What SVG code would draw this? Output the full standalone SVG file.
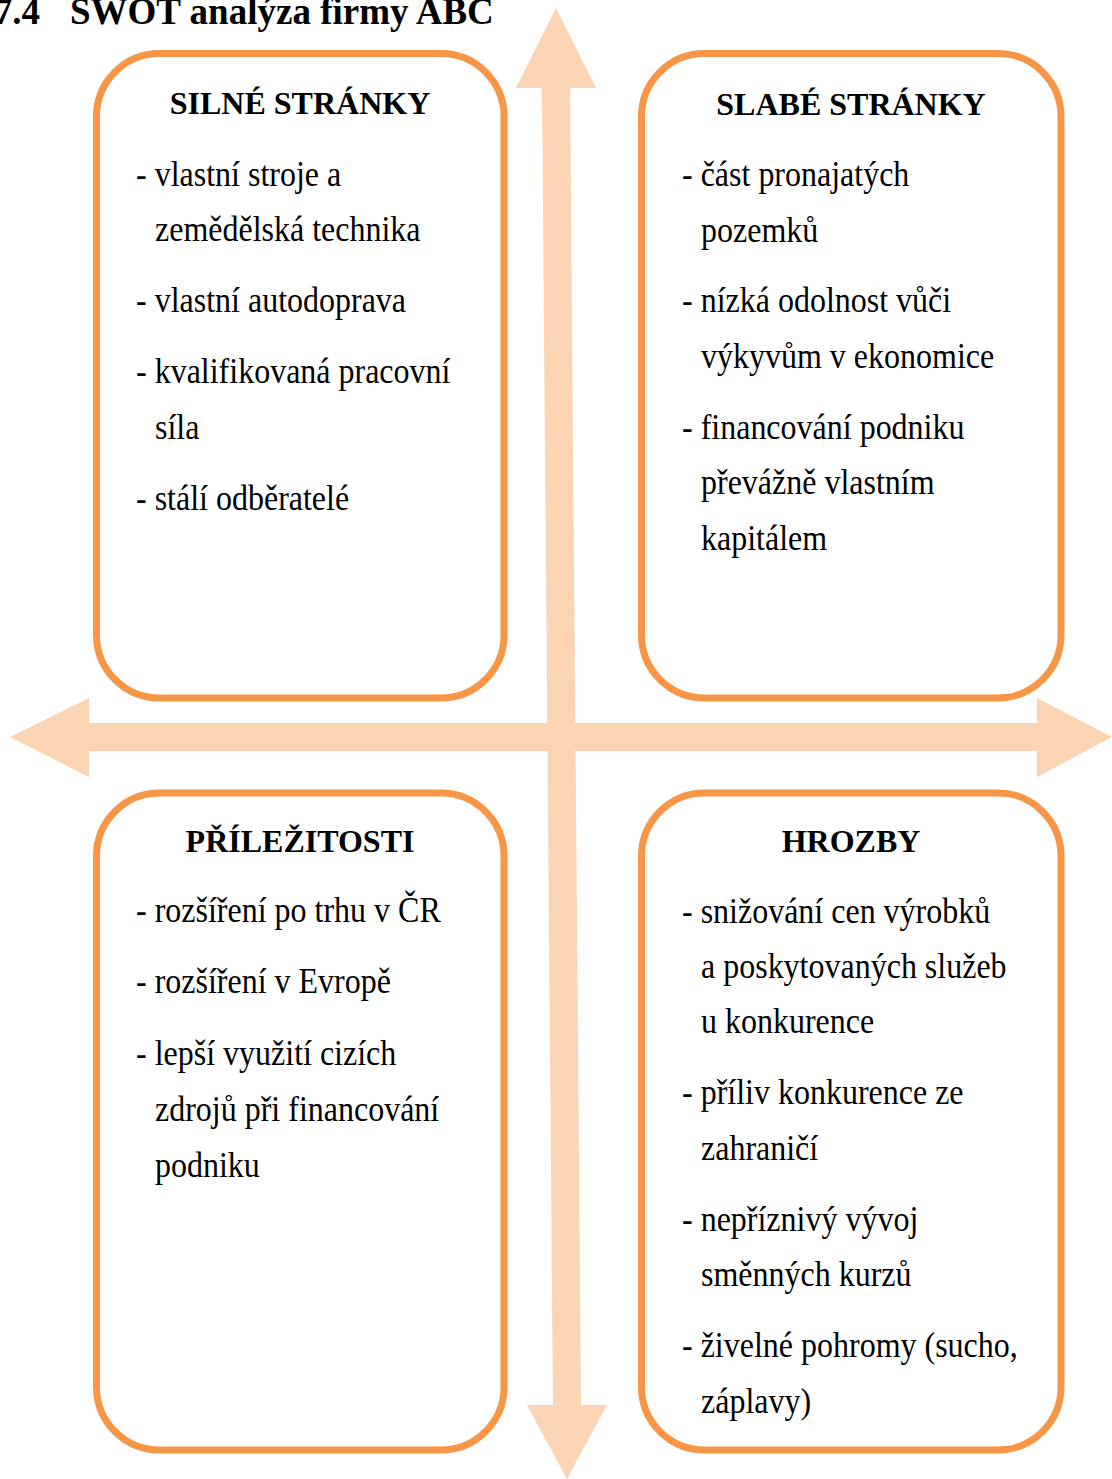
<svg xmlns="http://www.w3.org/2000/svg" width="1112" height="1479" viewBox="0 0 1112 1479">
<style>
.box{fill:#ffffff;stroke:#F79646;stroke-width:7}
.arr{fill:#FBD4B4;stroke:none}
.h{font-family:"Liberation Serif","Times New Roman",serif;font-weight:bold;font-size:32px;fill:#000;text-anchor:middle}
.t{font-family:"Liberation Serif","Times New Roman",serif;font-size:32px;fill:#000}
.title{font-family:"Liberation Serif","Times New Roman",serif;font-weight:bold;font-size:37px;fill:#000}
</style>
<rect width="1112" height="1479" fill="#ffffff"/>
<text class="title" x="40" y="24" text-anchor="end">7.4</text>
<text class="title" x="70" y="24">SWOT analýza firmy ABC</text>
<g id="connectors">
<polygon class="arr" points="10,737 89,698 89,723 1037,723 1037,698 1112,737 1037,777 1037,751 89,751 89,777"/>
<polygon class="arr" points="556,8 596,88 570,88 581,1405 607,1405 567,1479 527,1405 553,1405 542,88 516,88"/>
</g>
<g id="silne">
<rect class="box" x="96.5" y="53.5" width="407.5" height="644.5" rx="63" ry="63"/>
<text class="h" x="300" y="114">SILNÉ STRÁNKY</text>
<text class="t" transform="matrix(1,0,0,1.1,136,186)">- vlastní stroje a</text>
<text class="t" transform="matrix(1,0,0,1.1,155,241)">zemědělská technika</text>
<text class="t" transform="matrix(1,0,0,1.1,136,312)">- vlastní autodoprava</text>
<text class="t" transform="matrix(1,0,0,1.1,136,383)">- kvalifikovaná pracovní</text>
<text class="t" transform="matrix(1,0,0,1.1,155,439)">síla</text>
<text class="t" transform="matrix(1,0,0,1.1,136,510)">- stálí odběratelé</text>
</g>
<g id="slabe">
<rect class="box" x="641.5" y="53.5" width="419.5" height="644.5" rx="63" ry="63"/>
<text class="h" x="851" y="115">SLABÉ STRÁNKY</text>
<text class="t" transform="matrix(1,0,0,1.1,682,186)">- část pronajatých</text>
<text class="t" transform="matrix(1,0,0,1.1,701,242)">pozemků</text>
<text class="t" transform="matrix(1,0,0,1.1,682,312)">- nízká odolnost vůči</text>
<text class="t" transform="matrix(1,0,0,1.1,701,368)">výkyvům v ekonomice</text>
<text class="t" transform="matrix(1,0,0,1.1,682,439)">- financování podniku</text>
<text class="t" transform="matrix(1,0,0,1.1,701,494)">převážně vlastním</text>
<text class="t" transform="matrix(1,0,0,1.1,701,550)">kapitálem</text>
</g>
<g id="prilezitosti">
<rect class="box" x="96.5" y="793" width="407.5" height="657" rx="63" ry="63"/>
<text class="h" x="300" y="852">PŘÍLEŽITOSTI</text>
<text class="t" transform="matrix(1,0,0,1.1,136,922)">- rozšíření po trhu v ČR</text>
<text class="t" transform="matrix(1,0,0,1.1,136,993)">- rozšíření v Evropě</text>
<text class="t" transform="matrix(1,0,0,1.1,136,1065)">- lepší využití cizích</text>
<text class="t" transform="matrix(1,0,0,1.1,155,1121)">zdrojů při financování</text>
<text class="t" transform="matrix(1,0,0,1.1,155,1177)">podniku</text>
</g>
<g id="hrozby">
<rect class="box" x="641.5" y="793" width="419.5" height="657" rx="63" ry="63"/>
<text class="h" x="851" y="852">HROZBY</text>
<text class="t" transform="matrix(1,0,0,1.1,682,923)">- snižování cen výrobků</text>
<text class="t" transform="matrix(1,0,0,1.1,701,978)">a poskytovaných služeb</text>
<text class="t" transform="matrix(1,0,0,1.1,701,1033)">u konkurence</text>
<text class="t" transform="matrix(1,0,0,1.1,682,1104)">- příliv konkurence ze</text>
<text class="t" transform="matrix(1,0,0,1.1,701,1160)">zahraničí</text>
<text class="t" transform="matrix(1,0,0,1.1,682,1231)">- nepříznivý vývoj</text>
<text class="t" transform="matrix(1,0,0,1.1,701,1286)">směnných kurzů</text>
<text class="t" transform="matrix(1,0,0,1.1,682,1357)">- živelné pohromy (sucho,</text>
<text class="t" transform="matrix(1,0,0,1.1,701,1413)">záplavy)</text>
</g>
</svg>
